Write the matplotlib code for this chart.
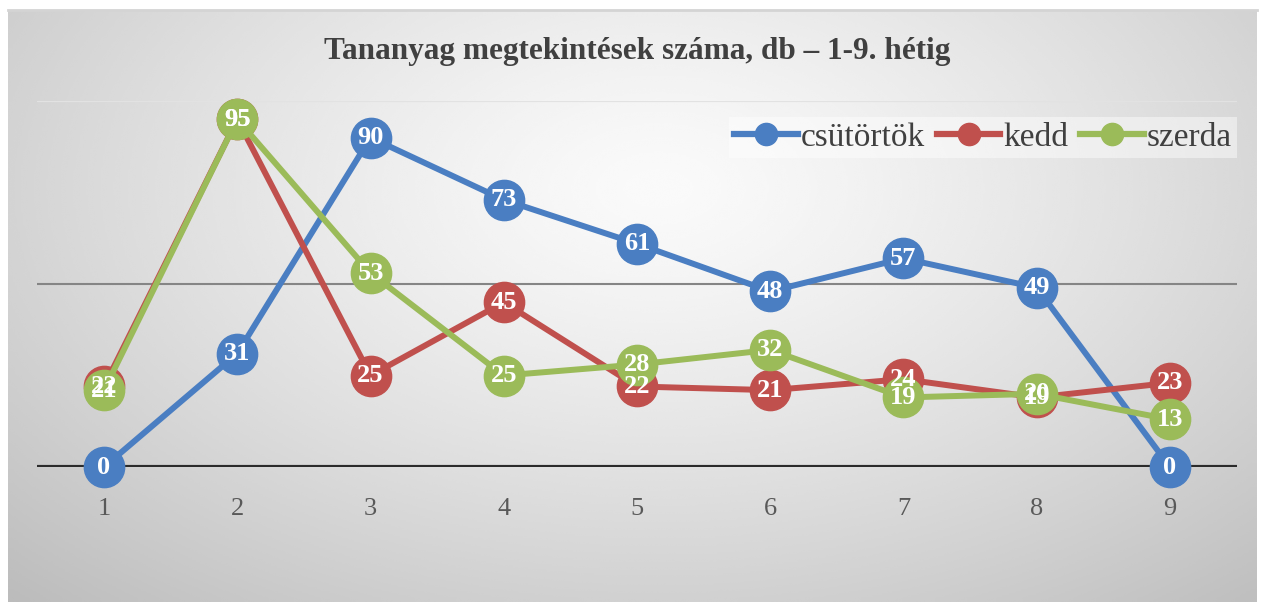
import matplotlib.pyplot as plt
import numpy as np
from matplotlib.lines import Line2D

# Data
weeks = [1, 2, 3, 4, 5, 6, 7, 8, 9]
csutortok = [0, 31, 90, 73, 61, 48, 57, 49, 0]
kedd = [22, 95, 25, 45, 22, 21, 24, 19, 23]
szerda = [21, 95, 53, 25, 28, 32, 19, 20, 13]
series_names = ["csütörtök", "kedd", "szerda"]
title = "Tananyag megtekintések száma, db – 1-9. hétig"

colors = ["#4A7EC2", "#C0504D", "#9BBB59"]
FONT = "Liberation Serif"

W, H = 1266, 603
fig = plt.figure(figsize=(W / 100, H / 100), dpi=100)
fig.patch.set_facecolor("white")

# Background radial gradient (chart area)
bg = fig.add_axes([8 / W, 1 / H, (1257 - 8) / W, (593 - 1) / H])
bg.set_axis_off()
yy, xx = np.mgrid[0:300, 0:600]
dx = (xx / 600 - 0.52) / 0.75
dy = (yy / 300 - 0.30) / 0.95
r = np.clip(np.sqrt(dx ** 2 + dy ** 2), 0, 1)
g = (250 - 62 * r ** 1.3) / 255
bg.imshow(g, cmap="gray", vmin=0, vmax=1, aspect="auto", extent=[0, 1, 0, 1],
          interpolation="bicubic")
bg.plot([0, 1], [1, 1], color="#d4d4d4", lw=2, transform=bg.transAxes, clip_on=False)
bg.set_xlim(0, 1)
bg.set_ylim(0, 1)

# Main axes
ax = fig.add_axes([37.4 / W, 136 / H, (1236.6 - 37.4) / W, 366 / H])
ax.patch.set_alpha(0)
ax.set_xlim(0.5, 9.5)
ax.set_ylim(0, 100)
for s in ax.spines.values():
    s.set_visible(False)
ax.set_yticks([])
ax.set_xticks(weeks)
ax.set_xticklabels([str(w) for w in weeks], fontfamily=FONT, fontsize=19, color="#595959")
ax.tick_params(axis="x", length=0, pad=22)

ax.axhline(100, color="#e2e2e2", lw=1.6, zorder=1)
ax.axhline(50, color="#858585", lw=1.5, zorder=1)
ax.axhline(0, color="#2b2b2b", lw=3.0, zorder=1)

all_series = [csutortok, kedd, szerda]
for i, (vals, col) in enumerate(zip(all_series, colors)):
    ax.plot(weeks, vals, color=col, lw=4.3, marker="o", markersize=29,
            markerfacecolor=col, markeredgecolor=col, zorder=3 + i, clip_on=False,
            solid_joinstyle="round")

for vals in all_series:
    for x, v in zip(weeks, vals):
        ax.text(x, v, str(v), ha="center", va="center", color="white",
                fontfamily=FONT, fontweight="bold", fontsize=19, zorder=10)

# Title
fig.text(637 / W, 1 - 52 / H, title, ha="center", va="center", fontfamily=FONT,
         fontweight="bold", fontsize=22.5, color="#404040")

# Legend
handles = [Line2D([0], [0], color=c, lw=4.5, marker="o", markersize=16,
                  markerfacecolor=c, markeredgecolor=c) for c in colors]
leg = fig.legend(handles, series_names, loc="upper right",
                 bbox_to_anchor=(1237 / W, 1 - 117 / H), ncol=3,
                 prop={"family": FONT, "size": 24}, frameon=True, fancybox=False,
                 handlelength=1.9, handletextpad=0.1, columnspacing=0.35,
                 borderpad=0.15, borderaxespad=0)
leg.get_frame().set_facecolor("white")
leg.get_frame().set_alpha(0.45)
leg.get_frame().set_edgecolor("none")
for t in leg.get_texts():
    t.set_color("#404040")

fig.savefig("out.png", dpi=100)
